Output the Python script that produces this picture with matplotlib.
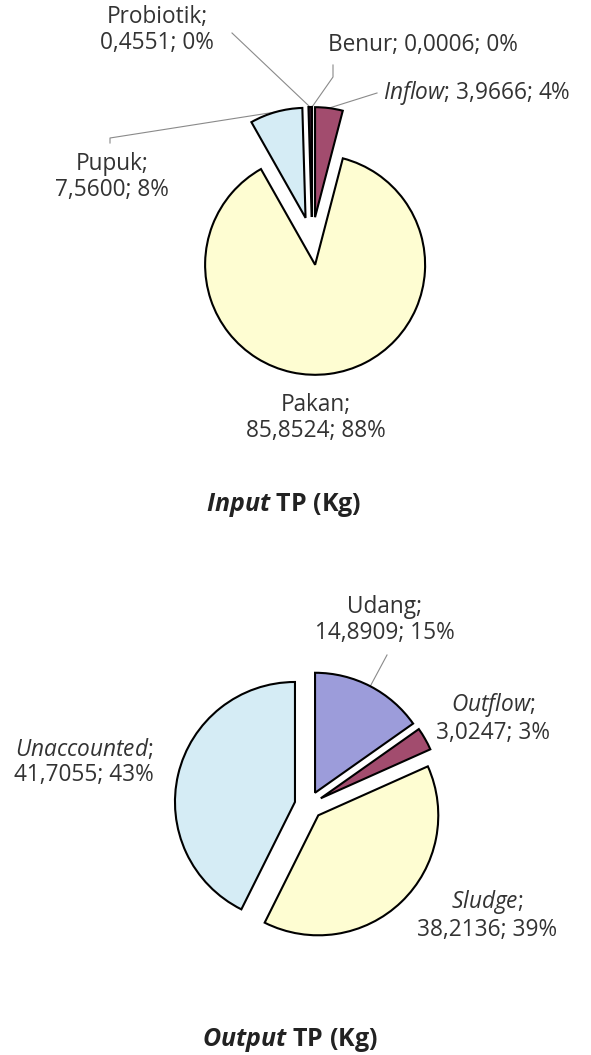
import numpy as np
import matplotlib
matplotlib.use("Agg")
import matplotlib.pyplot as plt

# data (Kg), Excel-style order starting at 12 o'clock going clockwise
in_names = ["Benur", "Inflow", "Pakan", "Pupuk", "Probiotik"]
in_values = [0.0006, 3.9666, 85.8524, 7.5600, 0.4551]
in_pct = ["0%", "4%", "88%", "8%", "0%"]

out_names = ["Udang", "Outflow", "Sludge", "Unaccounted"]
out_values = [14.8909, 3.0247, 38.2136, 41.7055]
out_pct = ["15%", "3%", "39%", "43%"]

in_colors = ["#9c9cda", "#a24c6e", "#fefdd2", "#d5ecf5", "#3a1a30"]
out_colors = ["#9c9cda", "#a24c6e", "#fefdd2", "#d5ecf5"]

plt.rcParams['font.family'] = ['Open Sans', 'DejaVu Sans']
plt.rcParams['mathtext.fontset'] = 'custom'
plt.rcParams['mathtext.rm'] = 'Open Sans'
plt.rcParams['mathtext.it'] = 'Open Sans:italic'
plt.rcParams['mathtext.bfit'] = 'Open Sans:italic:bold'

W, H = 591, 1055
fig = plt.figure(figsize=(W / 100, H / 100), dpi=100)
ax = fig.add_axes([0, 0, 1, 1])

def Y(y):
    return H - y

edge = dict(edgecolor="black", linewidth=1.5)

# explode is in data units (pixels here)
w_in, _ = ax.pie(in_values, colors=in_colors, startangle=90, counterclock=False,
                 explode=[24] * len(in_values), radius=110, center=(312, Y(241)),
                 wedgeprops=edge)
w_out, _ = ax.pie(out_values, colors=out_colors, startangle=90, counterclock=False,
                  explode=[14] * len(out_values), radius=120, center=(308.6, Y(805.2)),
                  wedgeprops=edge)

ax.set_xlim(0, W)
ax.set_ylim(0, H)
ax.set_aspect('equal')
ax.axis('off')


def arc_mid(w):
    a = np.deg2rad((w.theta1 + w.theta2) / 2)
    return w.center[0] + w.r * np.cos(a), w.center[1] + w.r * np.sin(a)


def leader(pts, w):
    xs = [p[0] for p in pts]
    ys = [Y(p[1]) for p in pts]
    x_end, y_end = arc_mid(w)
    ax.plot(xs + [x_end], ys + [y_end], color="#8a8a8a", lw=0.8, zorder=0)


fs = 16.3
tc = "#333333"

def label(x, y, text, ha='center'):
    ax.text(x, Y(y), text, fontsize=fs, color=tc, ha=ha,
            va='center', linespacing=1.08)

# input labels
label(157, 30, "Probiotik;\n0,4551; 0%")
label(328, 45, "Benur; 0,0006; 0%", ha='left')
label(383, 93, r"$\mathit{Inflow}$; 3,9666; 4%", ha='left')
label(112, 177, "Pupuk;\n7,5600; 8%")
label(316, 418, "Pakan;\n85,8524; 88%")

leader([(232, 33)], w_in[4])
leader([(333, 65), (333, 77)], w_in[0])
leader([(377, 93)], w_in[1])
leader([(110, 143), (110, 138)], w_in[3])

# output labels
label(385, 620, "Udang;\n14,8909; 15%")
label(493, 718, r"$\mathit{Outflow}$;" + "\n3,0247; 3%")
label(487, 915, r"$\mathit{Sludge}$;" + "\n38,2136; 39%")
label(84, 762, r"$\mathit{Unaccounted}$;" + "\n41,7055; 43%")

leader([(387, 655)], w_out[0])

# titles
ax.text(284, Y(505), r"$\mathbfit{Input}$ TP (Kg)", fontsize=18, fontweight='bold',
        color="#222222", ha='center', va='center')
ax.text(290, Y(1040), r"$\mathbfit{Output}$ TP (Kg)", fontsize=18, fontweight='bold',
        color="#222222", ha='center', va='center')

fig.savefig("out.png", dpi=100, facecolor="white")
